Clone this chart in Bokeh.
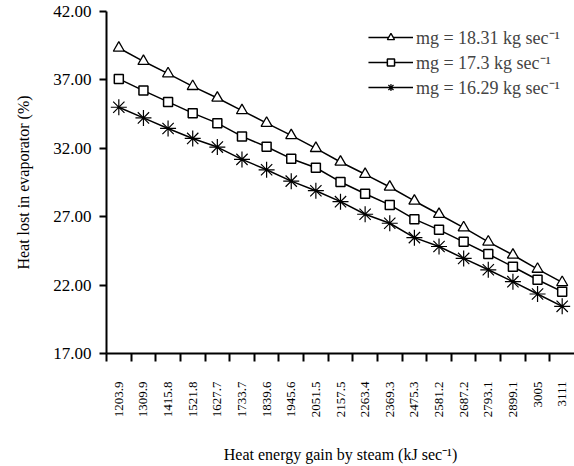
from bokeh.plotting import figure
from bokeh.models import FixedTicker, Range1d, Legend, LegendItem, NumeralTickFormatter
from bokeh.embed import file_html
from bokeh.resources import INLINE
import math

# ---- data ----
heat_gain = ["1203.9", "1309.9", "1415.8", "1521.8", "1627.7", "1733.7", "1839.6",
             "1945.6", "2051.5", "2157.5", "2263.4", "2369.3", "2475.3", "2581.2",
             "2687.2", "2793.1", "2899.1", "3005", "3111"]
mg_18_31 = [39.33, 38.36, 37.46, 36.53, 35.68, 34.76, 33.84, 32.94, 32.00, 31.00,
            30.10, 29.17, 28.15, 27.18, 26.20, 25.16, 24.20, 23.17, 22.20]
mg_17_3 = [37.07, 36.22, 35.39, 34.57, 33.84, 32.87, 32.11, 31.24, 30.58, 29.54,
           28.68, 27.86, 26.82, 26.04, 25.16, 24.27, 23.34, 22.39, 21.52]
mg_16_29 = [35.00, 34.22, 33.45, 32.72, 32.09, 31.19, 30.43, 29.60, 28.90, 28.10,
            27.18, 26.52, 25.47, 24.82, 23.95, 23.12, 22.25, 21.35, 20.45]
y_ticks = [17, 22, 27, 32, 37, 42]
series_labels = ["mg = 18.31 kg sec\u207b\u00b9", "mg = 17.3 kg sec\u207b\u00b9",
                 "mg = 16.29 kg sec\u207b\u00b9"]

FONT = "Liberation Serif"
n = len(heat_gain)
xs = list(range(n))

p = figure(width=574, height=466, output_backend="svg", toolbar_location=None,
           x_range=Range1d(-0.5, n - 0.5), y_range=Range1d(y_ticks[0], y_ticks[-1]),
           min_border_left=106, min_border_right=0, min_border_top=11, min_border_bottom=113,
           background_fill_color="white", border_fill_color="white")
p.grid.visible = False
p.outline_line_color = None

# ---- series ----
items = []
specs = [(mg_18_31, "triangle", 11, 1.3), (mg_17_3, "square", 9, 1.5),
         (mg_16_29, "asterisk", 16, 1.2)]
for (vals, marker, size, lw), lab in zip(specs, series_labels):
    ln = p.line(xs, vals, line_color="black", line_width=1.5)
    sc = p.scatter(xs, vals, marker=marker, size=size, fill_color="white",
                   line_color="black", line_width=lw)
    items.append(LegendItem(label=lab, renderers=[ln, sc]))

legend = Legend(items=items, location="top_right", margin=14, padding=4,
                border_line_color=None, background_fill_alpha=0,
                label_text_font=FONT, label_text_font_size="18px",
                glyph_width=45, glyph_height=18, label_height=18, spacing=1,
                label_standoff=3)
p.add_layout(legend)

# ---- x axis ----
xa = p.xaxis[0]
xa.ticker = FixedTicker(ticks=xs, minor_ticks=[i - 0.5 for i in range(n)])
xa.major_label_overrides = {i: lab for i, lab in enumerate(heat_gain)}
xa.major_label_orientation = math.pi / 2
xa.major_tick_line_color = None
xa.major_tick_out = 0
xa.major_tick_in = 0
xa.minor_tick_line_color = "black"
xa.minor_tick_line_width = 2
xa.minor_tick_out = 8
xa.minor_tick_in = 0
xa.major_label_standoff = 20
xa.major_label_text_font = FONT
xa.major_label_text_font_size = "13px"
xa.major_label_text_color = "black"
xa.axis_line_color = "black"
xa.axis_line_width = 2
xa.axis_label = "Heat energy gain by steam (kJ sec\u207b\u00b9)"
xa.axis_label_text_font = FONT
xa.axis_label_text_font_size = "16px"
xa.axis_label_text_font_style = "normal"
xa.axis_label_text_color = "black"
xa.axis_label_standoff = 26

# ---- y axis ----
ya = p.yaxis[0]
ya.ticker = FixedTicker(ticks=y_ticks)
ya.formatter = NumeralTickFormatter(format="0.00")
ya.major_tick_out = 7
ya.major_tick_in = 0
ya.major_tick_line_width = 2
ya.major_tick_line_color = "black"
ya.minor_tick_line_color = None
ya.major_label_standoff = 8
ya.major_label_text_font = FONT
ya.major_label_text_font_size = "17px"
ya.major_label_text_color = "black"
ya.axis_line_color = "black"
ya.axis_line_width = 2
ya.axis_label = "Heat lost in evaporator (%)"
ya.axis_label_text_font = FONT
ya.axis_label_text_font_size = "16px"
ya.axis_label_text_font_style = "normal"
ya.axis_label_text_color = "black"
ya.axis_label_standoff = 18

open("out.html", "w").write(file_html(p, INLINE))
